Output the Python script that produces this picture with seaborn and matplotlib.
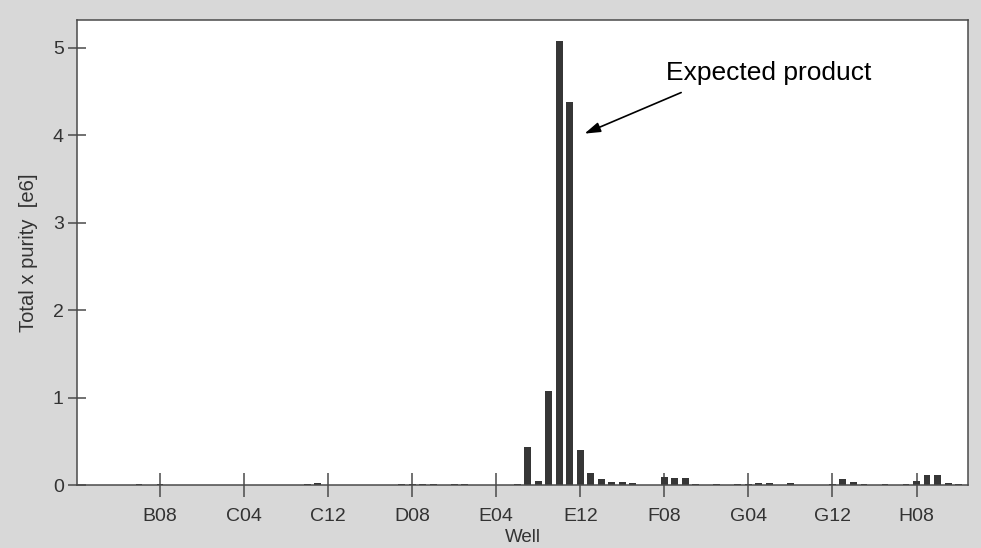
import matplotlib
matplotlib.use("Agg")
import matplotlib.pyplot as plt
import seaborn as sns
import pandas as pd

# ---- data ----
rows = ["B", "C", "D", "E", "F", "G", "H"]
wells = [f"{r}{c:02d}" for r in rows for c in range(1, 13)]

values_B = [0, 0, 0, 0, 0, 0.01, 0, 0.008, 0, 0, 0, 0]
values_C = [0, 0, 0, 0, 0, 0, 0, 0, 0, 0.015, 0.025, 0]
values_D = [0, 0, 0, 0, 0, 0, 0.01, 0.01, 0.012, 0.012, 0, 0.012]
values_E = [0.012, 0, 0, 0, 0, 0.012, 0.44, 0.05, 1.07, 5.08, 4.38, 0.40]
values_F = [0.14, 0.07, 0.03, 0.03, 0.02, 0, 0, 0.095, 0.085, 0.085, 0.015, 0]
values_G = [0.01, 0, 0.01, 0.01, 0.02, 0.025, 0, 0.025, 0, 0, 0, 0.01]
values_H = [0.065, 0.04, 0.01, 0, 0.01, 0, 0.01, 0.05, 0.11, 0.11, 0.02, 0.01]
values = values_B + values_C + values_D + values_E + values_F + values_G + values_H

tick_labels = ["B08", "C04", "C12", "D08", "E04", "E12", "F08", "G04", "G12", "H08"]
yticks = [0, 1, 2, 3, 4, 5]

df = pd.DataFrame({"Well": wells, "value": values})

# ---- style ----
sns.set_style("white")
plt.rcParams["font.family"] = ["Liberation Sans", "DejaVu Sans"]

W, H = 981, 548
fig = plt.figure(figsize=(W / 100, H / 100), dpi=100, facecolor="#d8d8d8")
ax = fig.add_axes([77 / W, 1 - 485 / H, (968 - 77) / W, (485 - 20) / H])
ax.set_facecolor("white")

sns.barplot(data=df, x="Well", y="value", color="#363636", saturation=1,
            width=0.66, edgecolor="none", linewidth=0, ax=ax)

ax.set_xlim(-0.9, len(wells) - 1 + 0.9)
ax.set_ylim(0, 5.32)
ax.set_xticks([wells.index(t) for t in tick_labels])
ax.set_xticklabels(tick_labels)
ax.set_yticks(yticks)
ax.set_yticklabels([str(v) for v in yticks])

for s in ax.spines.values():
    s.set_visible(True)
    s.set_color("#4a4a4a")
    s.set_linewidth(1.1)

ax.tick_params(axis="x", direction="inout", length=17, width=1.1, color="#4a4a4a",
               labelsize=14, labelcolor="#333333", pad=8, bottom=True)
ax.tick_params(axis="y", direction="inout", length=13, width=1.1, color="#4a4a4a",
               labelsize=14, labelcolor="#333333", pad=3, left=True)

ax.set_xlabel("Well", fontsize=13.5, color="#333333", va="center")
ax.xaxis.set_label_coords(0.5, (485 - 538) / 465)
ax.set_ylabel("Total x purity  [e6]", fontsize=14.5, color="#333333", va="center")
ax.yaxis.set_label_coords((29 - 77) / 891, 0.5)

ax.text(55.2, 4.63, "Expected product", fontsize=19, color="black",
        ha="left", va="baseline")
ax.annotate("", xy=(47.4, 4.02), xytext=(56.6, 4.49),
            arrowprops=dict(arrowstyle="-|>,head_length=0.95,head_width=0.3",
                            color="black", lw=1.2, shrinkA=0, shrinkB=0,
                            mutation_scale=10))

fig.savefig("out.png", dpi=100, facecolor=fig.get_facecolor())
